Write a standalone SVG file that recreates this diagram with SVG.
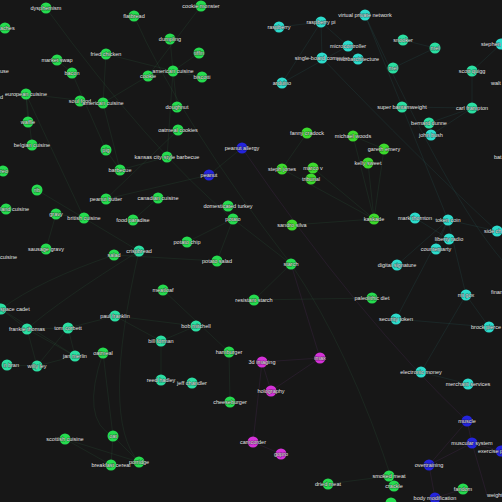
<svg xmlns="http://www.w3.org/2000/svg" width="502" height="502" viewBox="0 0 502 502">
<style>
.bg{fill:#171717}
.e{fill:none;stroke:#2f6a45;stroke-width:0.6;stroke-opacity:0.32}
.et{fill:none;stroke:#2a6a66;stroke-width:0.6;stroke-opacity:0.32}
.ep{fill:none;stroke:#5a3068;stroke-width:0.6;stroke-opacity:0.4}
circle{r:5.5}
.g circle{fill:#25dc4f}
.l circle{fill:#3cda2c}
.t circle{fill:#2ddccc}
.s circle{fill:#2bdfa2}
.b circle{fill:#2424dd}
.m circle{fill:#d532d8}
text{font-family:"Liberation Sans",Arial,sans-serif;font-size:5.5px;fill:#e6e6e6;text-anchor:middle;stroke:#111;stroke-width:0.8px;stroke-opacity:0.6;paint-order:stroke}
.st{text-anchor:start}
.en{text-anchor:end}
</style>
<rect class="bg" width="502" height="502"/>
<g id="edges">
<path class="e" d="M103,103 L80,101 M103,103 L106,54 M103,103 L148,76 M103,103 L120,170 M103,103 L26,94 M173,71 L148,76 M173,71 L177,107 M173,71 L202,77 M173,71 L170,39 M173,71 L199,53 M173,71 L106,54 M173,71 L167,157 M201,6 L148,76 M72,73 L57,60 M72,73 L106,150 M26,94 L32,145 M26,94 L28,122 M26,94 L84,218 M106,150 L120,170 M120,170 L167,157 M106,199 L209,175 M209,175 L242,148 M106,199 L178,130 M158,198 L133,220 M56,214 L46,249 M84,218 L56,214 M233,219 L187,242 M233,219 L217,261 M233,219 L291,264 M233,219 L228,206 M291,264 L254,300 M254,300 L372,298 M229,352 L230,402 M229,352 L163,290 M113,436 L103,353 M113,436 L139,462 M113,436 L111,465 M111,465 L65,439 M139,462 L65,439 M328,484 L389,476 M389,476 L394,486 M114,255 L217,261 M139,251 L37,190"/>
<path class="e" d="M139,251 Q60,300 27,329 M114,255 Q40,280 1,309 M139,251 Q100,420 139,462 M103,353 Q80,420 113,436 M46,8 Q150,150 233,219 M134,16 Q180,120 291,264 M291,264 Q350,350 394,486"/>
<path class="e" d="M374,219 L384,149 M374,219 L368,163 M374,219 L353,136 M374,219 L292,225 M374,219 L282,169 M374,219 L313,168 M313,168 L311,179 M307,133 L282,169 M384,149 L353,136"/>
<path class="et" d="M321,22 L279,27 M321,22 L322,58 M321,22 L282,83 M321,22 L348,46 M348,46 L358,59 M348,46 L282,83 M365,15 L448,220 M448,220 L396,319 M448,220 L436,249 M448,220 L466,295 M448,220 L497,231 M448,220 L415,218 M466,295 L489,327 M466,295 L421,372 M421,372 L468,384 M397,265 L448,220 M449,239 L415,218 M396,319 L489,327 M472,108 L472,71 M472,108 L402,107 M472,108 L429,123 M472,108 L431,135 M403,40 L435,48 M393,68 L435,48 M472,71 L501,44 M365,15 Q450,200 502,260 M322,58 Q420,160 497,231"/>
<path class="e" d="M1,309 L27,329 M27,329 L68,328 M27,329 L75,356 M27,329 L37,366 M68,328 L75,356 M68,328 L115,316 M75,356 L37,366 M7,365 L37,366 M115,316 L161,341 M161,341 L196,326 M115,316 L196,326 M161,380 L192,383 M161,341 L161,380 M1,309 L75,356 M68,328 L37,366"/>
<path class="ep" d="M262,362 L271,391 M262,362 L320,358 M262,362 L253,442 M253,442 L281,454 M271,391 L320,358 M320,358 L291,264 M467,421 L472,443 M472,443 L501,451 M472,443 L429,465 M467,421 L429,465 M429,465 L435,498 M435,498 L463,489 M472,443 L487,495 M242,148 Q360,320 467,421"/>
</g>
<g id="n1" class="g"><circle cx="46" cy="8"/><text x="46" y="10">dysphemism</text></g>
<g id="n2" class="g"><circle cx="5" cy="28"/><text class="st" x="0" y="30">aches</text></g>
<g id="n3" class="g"><circle cx="134" cy="16"/><text x="134" y="18">flatbread</text></g>
<g id="n4" class="g"><circle cx="57" cy="60"/><text x="57" y="62">market swap</text></g>
<g id="n5" class="g"><circle cx="106" cy="54"/><text x="106" y="56">fried chicken</text></g>
<g id="n6" class="g"><circle cx="72" cy="73"/><text x="72" y="75">bacon</text></g>
<g id="n7"><text class="st" x="0" y="73">use</text></g>
<g id="n8" class="g"><circle cx="26" cy="94"/><text x="26" y="96">european cuisine</text></g>
<g id="n9"><text class="st" x="0" y="99">d</text></g>
<g id="n10" class="g"><circle cx="80" cy="101"/><text x="80" y="103">soul food</text></g>
<g id="n11" class="g"><circle cx="103" cy="103"/><text x="103" y="105">american cuisine</text></g>
<g id="n12" class="g"><circle cx="28" cy="122"/><text x="28" y="124">waffle</text></g>
<g id="n13" class="g"><circle cx="148" cy="76"/><text x="148" y="78">cookie</text></g>
<g id="n14" class="g"><circle cx="170" cy="39"/><text x="170" y="41">dumpling</text></g>
<g id="n15" class="g"><circle cx="201" cy="6"/><text x="201" y="8">cookie monster</text></g>
<g id="n16" class="g"><circle cx="199" cy="53"/><text x="199" y="55">tiffin</text></g>
<g id="n17" class="g"><circle cx="173" cy="71"/><text x="173" y="73">american cuisine</text></g>
<g id="n18" class="g"><circle cx="202" cy="77"/><text x="202" y="79">biscotti</text></g>
<g id="n19" class="g"><circle cx="177" cy="107"/><text x="177" y="109">doughnut</text></g>
<g id="n20" class="g"><circle cx="32" cy="145"/><text x="32" y="147">belgian cuisine</text></g>
<g id="n21" class="g"><circle cx="106" cy="150"/><text x="106" y="152">pig</text></g>
<g id="n22" class="g"><circle cx="167" cy="157"/><text x="167" y="159">kansas city-style barbecue</text></g>
<g id="n23" class="g"><circle cx="178" cy="130"/><text x="178" y="132">oatmeal cookies</text></g>
<g id="n24" class="g"><circle cx="120" cy="170"/><text x="120" y="172">barbecue</text></g>
<g id="n25" class="g"><circle cx="3" cy="171"/><text class="st" x="0" y="173">reo</text></g>
<g id="n26" class="g"><circle cx="37" cy="190"/><text x="37" y="192">rib</text></g>
<g id="n27" class="g"><circle cx="106" cy="199"/><text x="106" y="201">peanut butter</text></g>
<g id="n28" class="g"><circle cx="158" cy="198"/><text x="158" y="200">canadian cuisine</text></g>
<g id="n29" class="g"><circle cx="6" cy="209"/><text class="st" x="0" y="211">land cuisine</text></g>
<g id="n30" class="g"><circle cx="56" cy="214"/><text x="56" y="216">gravy</text></g>
<g id="n31" class="g"><circle cx="84" cy="218"/><text x="84" y="220">british cuisine</text></g>
<g id="n32" class="g"><circle cx="133" cy="220"/><text x="133" y="222">food paradise</text></g>
<g id="n33" class="g"><circle cx="46" cy="249"/><text x="46" y="251">sausage gravy</text></g>
<g id="n34"><text class="st" x="0" y="259">cuisine</text></g>
<g id="n35" class="g"><circle cx="114" cy="255"/><text x="114" y="257">salad</text></g>
<g id="n36" class="s"><circle cx="139" cy="251"/><text x="139" y="253">crispbread</text></g>
<g id="n37" class="b"><circle cx="242" cy="148"/><text x="242" y="150">peanut allergy</text></g>
<g id="n38" class="b"><circle cx="209" cy="175"/><text x="209" y="177">peanut</text></g>
<g id="n39" class="g"><circle cx="228" cy="206"/><text x="228" y="208">domesticated turkey</text></g>
<g id="n40" class="g"><circle cx="233" cy="219"/><text x="233" y="221">potato</text></g>
<g id="n41" class="g"><circle cx="187" cy="242"/><text x="187" y="244">potato chip</text></g>
<g id="n42" class="l"><circle cx="307" cy="133"/><text x="307" y="135">fanny cradock</text></g>
<g id="n43" class="l"><circle cx="282" cy="169"/><text x="282" y="171">steph jones</text></g>
<g id="n44" class="l"><circle cx="313" cy="168"/><text x="313" y="170">marco v</text></g>
<g id="n45" class="l"><circle cx="311" cy="179"/><text x="311" y="181">tribunal</text></g>
<g id="n46" class="l"><circle cx="292" cy="225"/><text x="292" y="227">sandro silva</text></g>
<g id="n47" class="l"><circle cx="353" cy="136"/><text x="353" y="138">michael woods</text></g>
<g id="n48" class="l"><circle cx="384" cy="149"/><text x="384" y="151">gareth emery</text></g>
<g id="n49" class="l"><circle cx="368" cy="163"/><text x="368" y="165">kelly sweet</text></g>
<g id="n50" class="l"><circle cx="374" cy="219"/><text x="374" y="221">kaskade</text></g>
<g id="n51" class="t"><circle cx="279" cy="27"/><text x="279" y="29">raspberry</text></g>
<g id="n52" class="t"><circle cx="321" cy="22"/><text x="321" y="24">raspberry pi</text></g>
<g id="n53" class="t"><circle cx="322" cy="58"/><text x="322" y="60">single-board computer</text></g>
<g id="n54" class="t"><circle cx="282" cy="83"/><text x="282" y="85">arduino</text></g>
<g id="n55" class="t"><circle cx="365" cy="15"/><text x="365" y="17">virtual private network</text></g>
<g id="n56" class="t"><circle cx="348" cy="46"/><text x="348" y="48">microcontroller</text></g>
<g id="n57" class="t"><circle cx="358" cy="59"/><text x="358" y="61">microarchitecture</text></g>
<g id="n58" class="s"><circle cx="403" cy="40"/><text x="403" y="42">snooker</text></g>
<g id="n59" class="s"><circle cx="435" cy="48"/><text x="435" y="50">mel</text></g>
<g id="n60" class="s"><circle cx="393" cy="68"/><text x="393" y="70">mel</text></g>
<g id="n61" class="t"><circle cx="501" cy="44"/><text class="st" x="481" y="46">stephen</text></g>
<g id="n62" class="s"><circle cx="472" cy="71"/><text x="472" y="73">scott quigg</text></g>
<g id="n63"><text class="st" x="491" y="85">walt</text></g>
<g id="n64" class="s"><circle cx="402" cy="107"/><text x="402" y="109">super bantamweight</text></g>
<g id="n65" class="s"><circle cx="472" cy="108"/><text x="472" y="110">carl frampton</text></g>
<g id="n66" class="s"><circle cx="429" cy="123"/><text x="429" y="125">bernard dunne</text></g>
<g id="n67" class="t"><circle cx="431" cy="135"/><text x="431" y="137">john bush</text></g>
<g id="n68"><text class="st" x="494" y="159">bat</text></g>
<g id="n69" class="t"><circle cx="415" cy="218"/><text x="415" y="220">mark thornton</text></g>
<g id="n70" class="t"><circle cx="448" cy="220"/><text x="448" y="222">token coin</text></g>
<g id="n71" class="t"><circle cx="497" cy="231"/><text class="st" x="484" y="233">side ch</text></g>
<g id="n72" class="t"><circle cx="449" cy="239"/><text x="449" y="241">liberty radio</text></g>
<g id="n73" class="t"><circle cx="436" cy="249"/><text x="436" y="251">counterparty</text></g>
<g id="n74" class="t"><circle cx="397" cy="265"/><text x="397" y="267">digital signature</text></g>
<g id="n75" class="g"><circle cx="372" cy="298"/><text x="372" y="300">paleolithic diet</text></g>
<g id="n76" class="t"><circle cx="466" cy="295"/><text x="466" y="297">mt gox</text></g>
<g id="n77"><text class="st" x="491" y="294">finan</text></g>
<g id="n78" class="t"><circle cx="396" cy="319"/><text x="396" y="321">security token</text></g>
<g id="n79" class="t"><circle cx="489" cy="327"/><text x="486" y="329">brock pierce</text></g>
<g id="n80" class="t"><circle cx="421" cy="372"/><text x="421" y="374">electronic money</text></g>
<g id="n81" class="t"><circle cx="468" cy="384"/><text x="468" y="386">merchant services</text></g>
<g id="n82" class="g"><circle cx="217" cy="261"/><text x="217" y="263">potato salad</text></g>
<g id="n83" class="g"><circle cx="291" cy="264"/><text x="291" y="266">starch</text></g>
<g id="n84" class="g"><circle cx="163" cy="290"/><text x="163" y="292">meatloaf</text></g>
<g id="n85" class="g"><circle cx="254" cy="300"/><text x="254" y="302">resistant starch</text></g>
<g id="n86" class="s"><circle cx="1" cy="309"/><text class="st" x="0" y="311">space cadet</text></g>
<g id="n87" class="s"><circle cx="27" cy="329"/><text x="27" y="331">frankie thomas</text></g>
<g id="n88" class="s"><circle cx="68" cy="328"/><text x="68" y="330">tom corbett</text></g>
<g id="n89" class="s"><circle cx="115" cy="316"/><text x="115" y="318">paul franklin</text></g>
<g id="n90" class="s"><circle cx="161" cy="341"/><text x="161" y="343">bill forman</text></g>
<g id="n91" class="s"><circle cx="196" cy="326"/><text x="196" y="328">bob mitchell</text></g>
<g id="n92" class="s"><circle cx="75" cy="356"/><text x="75" y="358">jan merlin</text></g>
<g id="n93" class="g"><circle cx="103" cy="353"/><text x="103" y="355">oatmeal</text></g>
<g id="n94" class="s"><circle cx="7" cy="365"/><text class="en" x="19" y="367">n bran</text></g>
<g id="n95" class="s"><circle cx="37" cy="366"/><text x="37" y="368">willy ley</text></g>
<g id="n96" class="g"><circle cx="229" cy="352"/><text x="229" y="354">hamburger</text></g>
<g id="n97" class="m"><circle cx="262" cy="362"/><text x="262" y="364">3d imaging</text></g>
<g id="n98" class="m"><circle cx="320" cy="358"/><text x="320" y="360">imax</text></g>
<g id="n99" class="s"><circle cx="161" cy="380"/><text x="161" y="382">reed hadley</text></g>
<g id="n100" class="s"><circle cx="192" cy="383"/><text x="192" y="385">jeff chandler</text></g>
<g id="n101" class="m"><circle cx="271" cy="391"/><text x="271" y="393">holography</text></g>
<g id="n102" class="g"><circle cx="230" cy="402"/><text x="230" y="404">cheeseburger</text></g>
<g id="n103" class="m"><circle cx="253" cy="442"/><text x="253" y="444">camcorder</text></g>
<g id="n104" class="m"><circle cx="281" cy="454"/><text x="281" y="456">gopro</text></g>
<g id="n105" class="g"><circle cx="113" cy="436"/><text x="113" y="438">oat</text></g>
<g id="n106" class="g"><circle cx="65" cy="439"/><text x="65" y="441">scottish cuisine</text></g>
<g id="n107" class="g"><circle cx="111" cy="465"/><text x="111" y="467">breakfast cereal</text></g>
<g id="n108" class="g"><circle cx="139" cy="462"/><text x="139" y="464">porridge</text></g>
<g id="n109" class="g"><circle cx="328" cy="484"/><text x="328" y="486">dried meat</text></g>
<g id="n110" class="g"><circle cx="389" cy="476"/><text x="389" y="478">smoked meat</text></g>
<g id="n111" class="g"><circle cx="394" cy="486"/><text x="394" y="488">crackle</text></g>
<g id="n112" class="g"><circle cx="391" cy="503"/></g>
<g id="n113" class="g"><circle cx="463" cy="489"/><text x="463" y="491">fandom</text></g>
<g id="n114" class="b"><circle cx="467" cy="421"/><text x="467" y="423">muscle</text></g>
<g id="n115" class="b"><circle cx="472" cy="443"/><text x="472" y="445">muscular system</text></g>
<g id="n116" class="b"><circle cx="501" cy="451"/><text class="st" x="478" y="453">exercise p</text></g>
<g id="n117" class="b"><circle cx="429" cy="465"/><text x="429" y="467">overtraining</text></g>
<g id="n118" class="b"><circle cx="435" cy="498"/><text x="435" y="500">body modification</text></g>
<g id="n119"><text class="st" x="487" y="497">weight</text></g>
</svg>
